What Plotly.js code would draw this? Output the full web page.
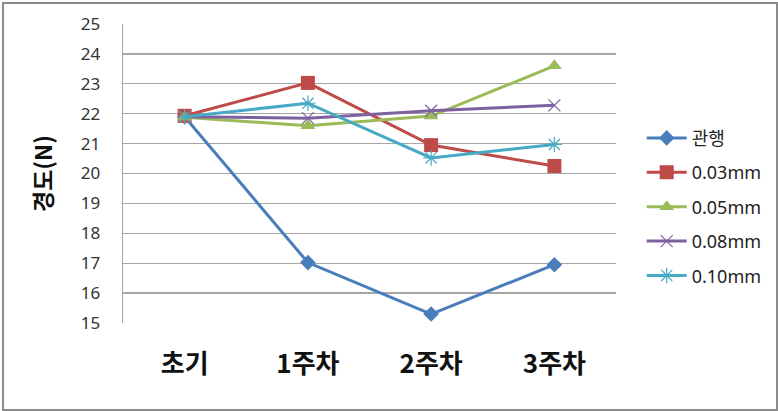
<!DOCTYPE html>
<html>
<head>
<meta charset="utf-8">
<script src="https://cdn.plot.ly/plotly-3.0.1.min.js"></script>
<style>
  body { margin: 0; background: #ffffff; }
  #grafico { width: 778px; height: 411px; }
  #marco {
    position: absolute; left: 2px; top: 2px; width: 772px; height: 405px;
    border: 2px solid #8c8c8c; pointer-events: none;
  }
</style>
</head>
<body>
<div id="grafico"></div>
<div id="marco"></div>
<script>
// ---------------------------------------------------------------------
// DATOS
// ---------------------------------------------------------------------
const categorias = ["초기", "1주차", "2주차", "3주차"];
const series = ["관행", "0.03mm", "0.05mm", "0.08mm", "0.10mm"];

const valGwanhaeng = [21.9, 17.02, 15.3, 16.95];
const val003 = [21.93, 23.03, 20.95, 20.25];
const val005 = [21.88, 21.6, 21.92, 23.6];
const val008 = [21.9, 21.85, 22.1, 22.28];
const val010 = [21.9, 22.35, 20.52, 20.97];

const colores = ["#4A7EBB", "#BE4B48", "#9BBB59", "#7D60A0", "#46AAC5"];
const simbolos = ["diamond", "square", "triangle-up", "x-thin", "asterisk-open"];
const tamanios = [12, 14, 13, 12, 13];

const valores = [valGwanhaeng, val003, val005, val008, val010];

// ---------------------------------------------------------------------
// TRAZAS
// ---------------------------------------------------------------------
const trazas = series.map((nombre, i) => ({
  x: categorias,
  y: valores[i],
  type: "scatter",
  mode: "lines+markers",
  name: nombre,
  legendgroup: "g" + i,
  line: { color: colores[i], width: 3 },
  marker: {
    symbol: simbolos[i],
    size: tamanios[i],
    color: colores[i],
    line: { color: colores[i], width: i >= 3 ? 1.2 : 0 },
  },
}));

const fuenteNum = "'Noto Sans', 'Noto Sans CJK KR', sans-serif";
const fuenteKr = "'Noto Sans CJK KR', 'Noto Sans', sans-serif";

const layout = {
  width: 778,
  height: 411,
  margin: { l: 123, r: 161, t: 24, b: 88 },
  paper_bgcolor: "#ffffff",
  plot_bgcolor: "#ffffff",
  showlegend: true,
  legend: {
    x: 1.05, y: 0.68, xanchor: "left", yanchor: "top",
    font: { family: fuenteNum, size: 18, color: "#222" },
    traceorder: "grouped",
    tracegroupgap: 8,
    itemwidth: 40,
  },
  xaxis: {
    type: "category",
    range: [-0.5, 3.5],
    showgrid: false,
    zeroline: false,
    showline: false,
    ticks: "outside",
    ticklen: 18,
    tickcolor: "rgba(0,0,0,0)",
    tickfont: { family: fuenteKr, size: 26, color: "#111", weight: "bold" },
  },
  yaxis: {
    range: [15, 25],
    dtick: 1,
    showgrid: true,
    gridcolor: "#a6a6a6",
    gridwidth: 1.3,
    zeroline: false,
    showline: true,
    linecolor: "#a6a6a6",
    linewidth: 1.3,
    ticks: "outside",
    ticklen: 18,
    tickcolor: "rgba(0,0,0,0)",
    tickfont: { family: fuenteNum, size: 17, color: "#333" },
    title: {
      text: "경도(N)",
      standoff: 21,
      font: { family: fuenteKr, size: 23, color: "#111", weight: "bold" },
    },
  },
};

Plotly.newPlot("grafico", trazas, layout, { displayModeBar: false, staticPlot: true });
</script>
</body>
</html>
